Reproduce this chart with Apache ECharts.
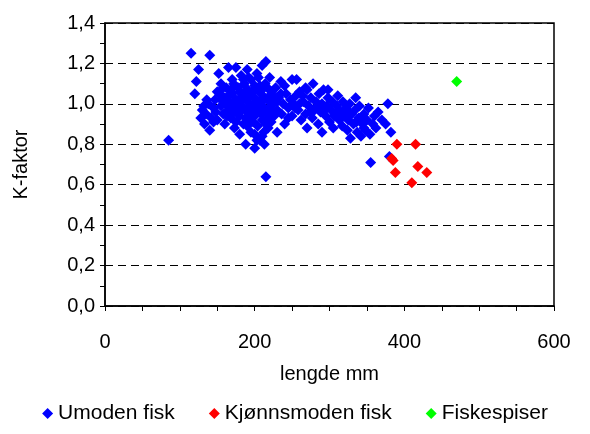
<!DOCTYPE html>
<html>
<head>
<meta charset="utf-8">
<script src="https://cdn.jsdelivr.net/npm/echarts@6/dist/echarts.min.js"></script>
<style>html,body{margin:0;padding:0;background:#fff}#c{width:590px;height:434px}</style>
</head>
<body>
<div id="c"></div>
<script>
// lengde mm, K-faktor
var umoden = [
[85,0.82],[115,1.25],[140,1.24],[120,1.05],[122,1.11],[125,1.17],[130,0.97],[128,0.93],[133,0.90],[135,0.95],
[138,1.00],[140,0.87],[142,0.93],[145,0.98],[147,1.02],[150,1.06],[150,0.92],[152,1.15],[155,1.10],[155,0.99],
[158,0.95],[160,0.90],[160,1.03],[162,1.08],[165,1.18],[165,0.97],[167,1.01],[168,0.93],[170,1.12],[170,1.05],
[172,0.99],[173,0.88],[175,1.18],[175,1.02],[177,0.96],[178,1.08],[180,1.00],[180,0.94],[182,1.14],[183,1.05],
[185,0.98],[185,0.90],[186,1.10],[188,0.80],[188,1.03],[190,1.17],[190,0.96],[191,1.07],[193,1.00],[194,0.92],
[195,1.12],[195,0.86],[197,1.04],[198,0.98],[200,0.78],[200,1.09],[200,0.94],[202,1.02],[203,1.15],[204,0.89],
[205,0.97],[206,1.06],[207,0.82],[208,1.00],[210,1.19],[210,0.92],[211,1.04],[212,0.86],[213,0.98],[214,1.10],
[215,1.21],[215,0.64],[216,0.95],[218,1.02],[218,0.88],[220,1.13],[220,0.98],[222,0.91],[223,1.06],[225,1.00],
[226,0.94],[228,1.08],[230,0.97],[230,0.86],[232,1.03],[235,1.11],[236,0.95],[238,1.00],[240,0.90],[242,1.05],
[245,0.98],[248,1.02],[250,0.94],[252,1.00],[255,1.04],[258,0.97],[260,1.06],[262,0.92],[265,1.01],[268,0.95],
[270,1.07],[270,0.88],[272,0.99],[275,1.03],[277,0.93],[278,1.10],[280,0.97],[282,1.01],[285,0.90],[286,1.05],
[288,0.96],[290,1.00],[290,0.86],[292,1.07],[295,0.94],[296,0.99],[298,1.03],[300,0.91],[302,0.97],[304,1.01],
[305,0.88],[308,0.95],[310,0.99],[311,1.04],[313,0.92],[315,0.96],[317,0.89],[318,1.01],[320,0.94],[322,0.98],
[324,0.87],[325,0.92],[327,1.00],[328,0.83],[330,0.95],[332,0.90],[334,0.97],[335,1.03],[337,0.86],[339,0.93],
[340,0.99],[342,0.84],[344,0.90],[346,0.95],[348,0.87],[350,0.92],[352,0.98],[354,0.85],[355,0.71],[358,0.90],
[360,0.94],[362,0.88],[365,0.96],[370,0.92],[375,0.90],[378,1.00],[380,0.74],[382,0.86],
[160,1.00],[170,0.95],[180,1.06],[190,1.02],[200,1.00],[210,1.07],[220,1.04],[230,1.01],[195,1.05],[185,1.12],
[205,1.13],[175,0.91],[165,1.04],[155,1.02],[145,0.91],[215,0.90],[225,0.96],[240,1.09],[250,1.12],[260,1.00],
[245,0.93],[235,1.05],[200,0.85],[210,0.84],[190,0.89],[180,0.85],[256,1.12],[268,1.08],[298,1.07],
[163,0.94],[168,1.07],[172,1.10],[178,1.02],[183,0.97],[187,1.06],[192,1.13],[196,0.95],[199,1.07],[203,0.98],
[207,1.09],[209,0.95],[212,1.02],[217,1.08],[219,0.93],[222,1.00],[227,1.03],[198,0.91],[188,0.93],[176,0.99],
[148,0.96],[153,1.05],[158,1.08],[136,1.02],[132,0.99],[203,0.82],[213,0.80],[206,1.01],[194,0.99],[184,1.02],
[274,0.96],[284,0.99],[294,0.97],[306,0.94],[316,0.93],[326,0.96],[336,0.91],[346,0.88],[264,1.04],[254,0.98]
];
var kjonnsmoden = [[383,0.73],[385,0.72],[390,0.80],[388,0.66],[410,0.61],[415,0.80],[418,0.69],[430,0.66]];
var fiskespiser = [[470,1.11]];

var chart = echarts.init(document.getElementById('c'));
var ff = 'Arial, "Liberation Sans", sans-serif';
var mk = { symbol: 'diamond', symbolSize: 11 };
chart.setOption({
  animation: false,
  textStyle: { fontFamily: ff },
  grid: { left: 105, right: 36, top: 23, bottom: 128, show: true, borderColor: '#000', borderWidth: 1.5 },
  legend: {
    bottom: 5, itemWidth: 11, itemHeight: 11, itemGap: 34,
    textStyle: { fontSize: 21, color: '#000', fontFamily: ff },
    data: [{ name: 'Umoden fisk', icon: 'diamond' }, { name: 'Kjønnsmoden fisk', icon: 'diamond' }, { name: 'Fiskespiser', icon: 'diamond' }]
  },
  xAxis: {
    type: 'value', min: 0, max: 600, interval: 200,
    name: 'lengde mm', nameLocation: 'middle', nameGap: 58,
    nameTextStyle: { fontSize: 20, color: '#000' },
    axisLine: { lineStyle: { color: '#000', width: 1.5 } },
    axisTick: { length: 5, lineStyle: { color: '#000' } },
    minorTick: { show: true, splitNumber: 4, length: 5, lineStyle: { color: '#000' } },
    axisLabel: { fontSize: 20, color: '#000', margin: 26 },
    splitLine: { show: false }
  },
  yAxis: {
    type: 'value', min: 0, max: 1.4, interval: 0.2,
    name: 'K-faktor', nameLocation: 'middle', nameGap: 74,
    nameTextStyle: { fontSize: 20, color: '#000' },
    axisLine: { show: true, lineStyle: { color: '#000', width: 1.5 } },
    axisTick: { show: true, length: 5, lineStyle: { color: '#000' } },
    minorTick: { show: true, splitNumber: 2, length: 5, lineStyle: { color: '#000' } },
    axisLabel: { fontSize: 20, color: '#000', margin: 10,
      formatter: function (v) { return v.toFixed(1).replace('.', ','); } },
    splitLine: { show: true, lineStyle: { type: [8, 5], color: '#000', width: 1 } }
  },
  series: [
    Object.assign({ name: 'Umoden fisk', type: 'scatter', data: umoden, itemStyle: { color: '#0000ff', opacity: 1 } }, mk),
    Object.assign({ name: 'Kjønnsmoden fisk', type: 'scatter', data: kjonnsmoden, itemStyle: { color: '#ff0000', opacity: 1 } }, mk),
    Object.assign({ name: 'Fiskespiser', type: 'scatter', data: fiskespiser, itemStyle: { color: '#00ff00', opacity: 1 } }, mk)
  ]
});
</script>
</body>
</html>
